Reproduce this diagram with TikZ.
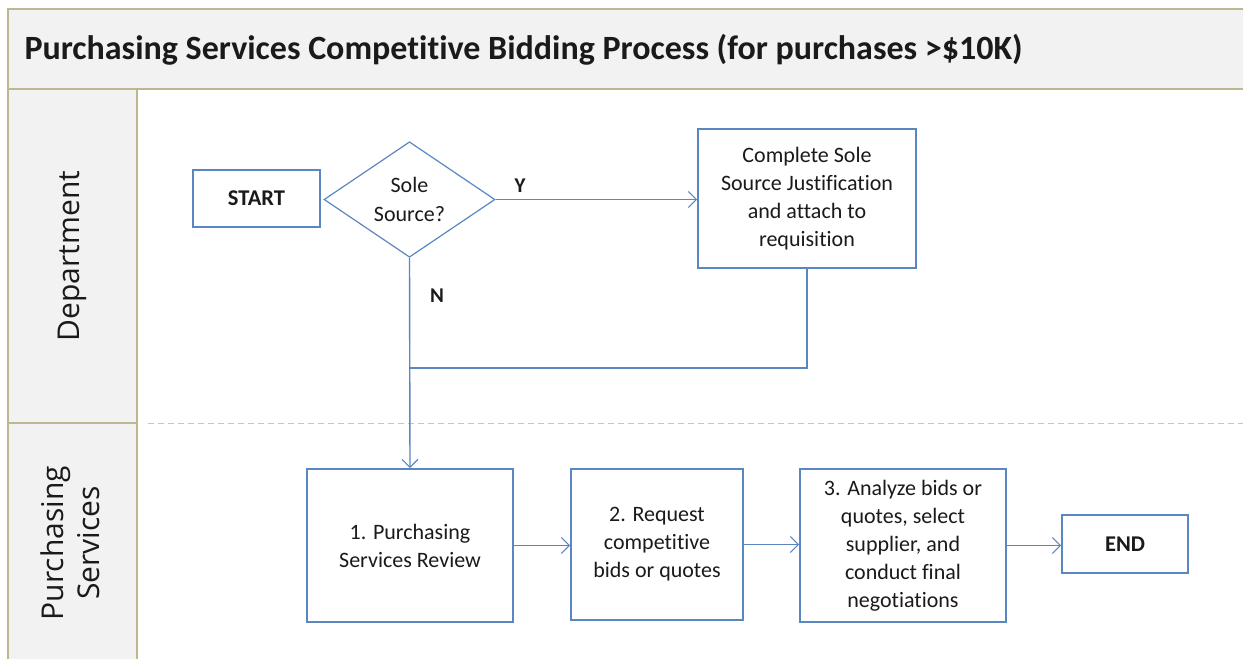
\documentclass[tikz,border=0pt]{standalone}
\usepackage{fontspec}
\setmainfont{Carlito}[Ligatures=NoCommon]
\newfontfamily\lanefont{Open Sans}
\usetikzlibrary{shapes.geometric,arrows.meta}
\definecolor{boxblue}{HTML}{5B87C0}
\definecolor{frametan}{HTML}{BDB78F}
\definecolor{lanegray}{HTML}{F2F2F2}
\definecolor{dashgray}{HTML}{C4C4C4}
\definecolor{txt}{HTML}{1A1A1A}
\tikzset{
  procbox/.style={draw=boxblue, line width=1.6pt, fill=white, align=center, inner sep=2pt,
    font=\fontsize{22}{28}\selectfont, text=txt},
  termbox/.style={draw=boxblue, line width=1.6pt, fill=white, align=center,
    font=\fontsize{22.5}{26}\selectfont\bfseries, text=txt},
  decbox/.style={diamond, draw=boxblue, line width=1.2pt, fill=white, align=center, inner sep=0pt,
    font=\fontsize{22}{29}\selectfont, text=txt},
  flow/.style={draw=boxblue, line width=1.4pt},
  flowarrow/.style={flow, -{Straight Barb[length=8pt,width=16pt,line width=1.2pt]}},
  lanelabel/.style={rotate=90, align=center, font=\lanefont\fontsize{30}{36}\selectfont, text=txt},
  ynlabel/.style={font=\fontsize{21}{24}\selectfont\bfseries, text=txt}
}
\begin{document}
\begin{tikzpicture}[x=1pt,y=-1pt]
\useasboundingbox (0,0) rectangle (1243,659);
\clip (0,0) rectangle (1243,659);
% frame
\fill[white] (0,0) rectangle (1243,659);
\draw[frametan, line width=1.6pt, fill=lanegray] (8,9) rectangle (1270,89);
\draw[frametan, line width=1.6pt, fill=lanegray] (8,89) rectangle (137,690);
\draw[frametan, line width=1.6pt] (8,423) -- (137,423);
\draw[dashgray, line width=1pt, dash pattern=on 6pt off 4pt] (148,423) -- (1243,423);
% title and lane labels
\node[anchor=west, font=\fontsize{34}{38}\selectfont\bfseries, text=txt] (title) at (21,50)
  {Purchasing Services Competitive Bidding Process (for purchases >\$10K)};
\node[lanelabel] (lanedept) at (72,256) {Department};
\node[lanelabel] (lanepurch) at (70,543) {Purchasing\\Services};
% nodes
\node[termbox, minimum width=127pt, minimum height=57pt] (start) at (256.5,198.5) {START};
\node[decbox, minimum width=171pt, minimum height=115pt] (dec) at (409.5,199.5) {Sole\\Source?};
\node[procbox, minimum width=218pt, minimum height=139pt] (sole) at (807,198.5)
  {Complete Sole\\Source Justification\\and attach to\\requisition};
\node[procbox, minimum width=206pt, minimum height=153pt] (b1) at (410,545.5)
  {1. Purchasing\\Services Review};
\node[procbox, minimum width=172pt, minimum height=151pt] (b2) at (657,544.5)
  {2. Request\\competitive\\bids or quotes};
\node[procbox, minimum width=206pt, minimum height=153pt] (b3) at (903,545.5)
  {3. Analyze bids or\\quotes, select\\supplier, and\\conduct final\\negotiations};
\node[termbox, minimum width=126pt, minimum height=58pt] (end) at (1125,544) {END};
\coordinate (join) at (410,368);
% connectors
\draw[flowarrow] (dec.east) -- (dec.east -| sole.west);
\draw[flow] (sole.south) |- (join);
\draw[flowarrow] (dec.south) -- (b1.north);
\draw[flowarrow] (b1.east) -- (b1.east -| b2.west);
\draw[flowarrow] (b2.east) -- (b2.east -| b3.west);
\draw[flowarrow] (b3.east) -- (b3.east -| end.west);
% labels
\node[ynlabel] (ylab) at (520,186) {Y};
\node[ynlabel] (nlab) at (437,296) {N};
\end{tikzpicture}
\end{document}
